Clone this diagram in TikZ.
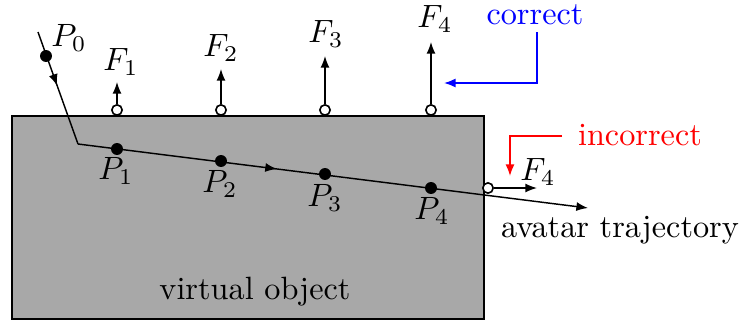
\documentclass[tikz,border=0pt]{standalone}
\usetikzlibrary{arrows.meta,decorations.markings}
\definecolor{objgray}{RGB}{168,168,168}
\begin{document}
\begin{tikzpicture}[x=0.31pt,y=-0.31pt,
  dot/.style={circle,fill=black,inner sep=0pt,minimum size=3.7pt},
  ocirc/.style={circle,draw=black,fill=white,line width=0.5pt,inner sep=0pt,minimum size=3.2pt},
  tip/.tip={Latex[length=3.6pt,width=2.8pt]},
  farrow/.style={-tip,line width=0.45pt},
  lbl/.style={inner sep=0pt},
  midarrow/.style={postaction={decorate},decoration={markings,mark=at position #1 with {\arrow{Latex[length=3.6pt,width=2.8pt]}}}}]
\useasboundingbox (0,0) rectangle (743,321);
% virtual object
\draw[fill=objgray,line width=0.5pt] (12,116) rectangle (484,319);
\node[lbl] (vo) at (255,292) {virtual object};
% trajectory
\coordinate (s) at (38,32);
\coordinate (c) at (78,144);
\coordinate (e) at (588,208);
\draw[line width=0.45pt,midarrow=0.48] (s) -- (c);
\draw[line width=0.45pt,midarrow=0.39,-tip] (c) -- (e);
\node[dot] (p0) at (46,56) {};
\node[dot] (p1) at (117,149) {};
\node[dot] (p2) at (221,161) {};
\node[dot] (p3) at (325,174) {};
\node[dot] (p4) at (431,188) {};
\node[lbl] (lp0) at (69,38) {$P_0$};
\node[lbl] (lp1) at (116,171) {$P_1$};
\node[lbl] (lp2) at (220,184) {$P_2$};
\node[lbl] (lp3) at (325,198) {$P_3$};
\node[lbl] (lp4) at (432,211) {$P_4$};
\node[lbl] (traj) at (620,230) {avatar trajectory};
% forces
\node[ocirc] (f1) at (117,110) {};
\node[ocirc] (f2) at (221,110) {};
\node[ocirc] (f3) at (325,110) {};
\node[ocirc] (f4) at (431,110) {};
\coordinate (t1) at (117,82);
\coordinate (t2) at (221,69);
\coordinate (t3) at (325,56);
\coordinate (t4) at (431,42);
\draw[farrow] (f1) -- (t1);
\draw[farrow] (f2) -- (t2);
\draw[farrow] (f3) -- (t3);
\draw[farrow] (f4) -- (t4);
\node[lbl] (lf1) at (121,62) {$F_1$};
\node[lbl] (lf2) at (221,48) {$F_2$};
\node[lbl] (lf3) at (326,34) {$F_3$};
\node[lbl] (lf4) at (435,19) {$F_4$};
% incorrect force
\node[ocirc] (fi) at (488,188) {};
\coordinate (ti) at (537,188);
\draw[farrow] (fi) -- (ti);
\node[lbl] (lfi) at (538,172) {$F_4$};
% annotations
\node[lbl,text=blue] (correct) at (535,15) {correct};
\coordinate (ca) at (537,32);
\coordinate (cb) at (537,83);
\coordinate (ct) at (444,83);
\draw[blue,line width=0.5pt,-tip] (ca) -- (cb) -- (ct);
\node[lbl,text=red] (incorrect) at (640,135) {incorrect};
\coordinate (ia) at (562,136);
\coordinate (ib) at (510,136);
\coordinate (it) at (510,176);
\draw[red,line width=0.5pt,-tip] (ia) -- (ib) -- (it);
\end{tikzpicture}
\end{document}
